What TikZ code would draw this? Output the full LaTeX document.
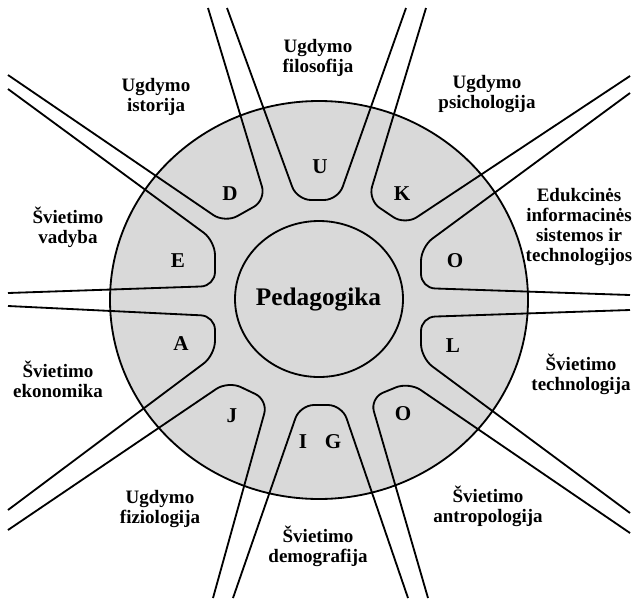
\documentclass[tikz,border=0pt]{standalone}
\usepackage{fontspec}
\setmainfont{Liberation Serif}

\begin{document}
\begin{tikzpicture}[x={(0.025cm,0cm)}, y={(0cm,-0.025cm)}, line width=1.3pt,
  mokslas/.style={font=\bfseries\fontsize{13.5}{14.2}\selectfont, align=center, anchor=base},
  raide/.style={font=\bfseries\fontsize{15}{18}\selectfont, anchor=base},
  sektorius/.style={rounded corners=0.35cm}]

\useasboundingbox (0,0) rectangle (638,600);

% Apskritimai
\fill[black!15] (319,300) ellipse [x radius=209, y radius=199];
\draw (319,300) ellipse [x radius=209, y radius=199];
\draw[fill=black!15] (319,299) ellipse [x radius=84, y radius=78];

% Sektoriai
\draw[sektorius] (227,8) -- (297,200) -- (338,200) -- (406,8);   % U
\draw[sektorius] (426,8) -- (368,200) -- (405,225) -- (630,76);  % K
\draw[sektorius] (630,93) -- (421,247) -- (421,288) -- (630,295); % O
\draw[sektorius] (630,310) -- (421,317) -- (421,358) -- (630,513); % L
\draw[sektorius] (630,533) -- (409,382) -- (370,398) -- (428,598); % O
\draw[sektorius] (408,598) -- (342,405) -- (300,405) -- (233,598); % I G
\draw[sektorius] (213,598) -- (268,400) -- (228,381) -- (8,530);  % J
\draw[sektorius] (8,510) -- (215,355) -- (215,316) -- (8,306);    % A
\draw[sektorius] (8,293) -- (215,286) -- (215,241) -- (8,89);     % E
\draw[sektorius] (8,75) -- (225,223) -- (266,200) -- (208,8);     % D

% Raidės
\node[raide] (rU) at (320,173) {U};
\node[raide] (rK) at (402,200) {K};
\node[raide] (rO1) at (455,267) {O};
\node[raide] (rL) at (453,352) {L};
\node[raide] (rO2) at (403,420) {O};
\node[raide] (rG) at (333,448) {G};
\node[raide] (rI) at (303,448) {I};
\node[raide] (rJ) at (232,422) {J};
\node[raide] (rA) at (181,350) {A};
\node[raide] (rE) at (178,267) {E};
\node[raide] (rD) at (230,200) {D};

\node[font=\bfseries\fontsize{18}{20}\selectfont, anchor=base] (pedagogika) at (318.5,305) {Pedagogika};

% Mokslai (bazė - paskutinė eilutė)
\node[mokslas] (filosofija) at (318,72) {Ugdymo\\filosofija};
\node[mokslas] (psichologija) at (487,108) {Ugdymo\\psichologija};
\node[mokslas] (edukcines) at (579,261) {Edukcinės\\informacinės\\sistemos ir\\technologijos};
\node[mokslas] (technologija) at (581,390) {Švietimo\\technologija};
\node[mokslas] (antropologija) at (488,522) {Švietimo\\antropologija};
\node[mokslas] (demografija) at (318,562) {Švietimo\\demografija};
\node[mokslas] (fiziologija) at (160,523) {Ugdymo\\fiziologija};
\node[mokslas] (ekonomika) at (58,397) {Švietimo\\ekonomika};
\node[mokslas] (vadyba) at (68,243) {Švietimo\\vadyba};
\node[mokslas] (istorija) at (156,111) {Ugdymo\\istorija};
\end{tikzpicture}
\end{document}
